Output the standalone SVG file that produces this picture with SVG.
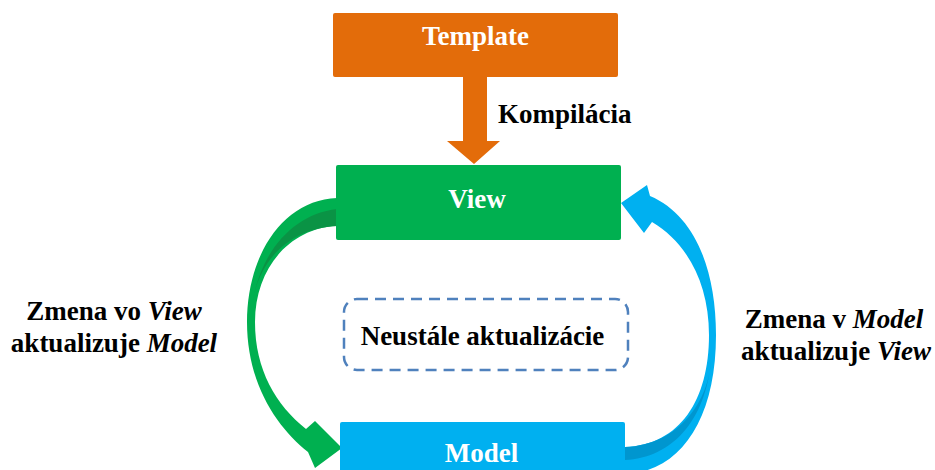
<svg xmlns="http://www.w3.org/2000/svg" width="935" height="470" viewBox="0 0 935 470">
<style>
.lbl{font-family:"Liberation Serif","Times New Roman",serif;font-weight:bold;font-size:27px}
.wt{fill:#ffffff;text-anchor:middle}
.bt{fill:#000000}
.mid{text-anchor:middle}
.it{font-style:italic}
</style>
<rect width="935" height="470" fill="#ffffff"/>
<g id="connectors">
  <g id="compile-arrow">
    <polygon points="463,76 487,76 487,141 500,141 474,164 447,141 463,141" fill="#e36c0a"/>
  </g>
  <g id="view-to-model">
    <path d="M 337,198 C 283,200 247,255 247,322 C 247,385 278,428 308,452 L 315,468 L 342,448 L 315,421 L 306,429 C 276,405 255,370 255,322 C 255,268 290,228 337,226 Z" fill="#00b050"/>
    <path d="M 337,209 C 294,214 262,250 253,300 C 260,258 292,228 337,226 Z" fill="#0a9345"/>
  </g>
  <g id="model-to-view">
    <path d="M 625,447 C 680,445 709,400 709,335 C 709,282 686,242 652,222 L 644,233 L 621,203 L 647,185 L 650,196 C 695,215 716,270 716,335 C 716,420 680,472 625,474 Z" fill="#00b0f0"/>
    <path d="M 625,447 C 680,445 709,400 711,360 C 706,420 672,458 625,460 Z" fill="#0096cf"/>
  </g>
</g>
<g id="template">
  <rect x="333" y="13" width="285" height="64" rx="2" fill="#e36c0a"/>
  <text class="lbl wt" x="475.5" y="45">Template</text>
</g>
<g id="view">
  <rect x="336" y="165" width="285" height="75" rx="2" fill="#00b050"/>
  <text class="lbl wt" x="477" y="208">View</text>
</g>
<g id="model">
  <rect x="340" y="422" width="285" height="60" rx="2" fill="#00b0f0"/>
  <text class="lbl wt" x="481.5" y="462">Model</text>
</g>
<g id="continuous">
  <rect x="344" y="299" width="284" height="71" rx="13" fill="none" stroke="#4f81bd" stroke-width="2.5" stroke-dasharray="11,7"/>
  <text class="lbl bt mid" x="482.5" y="345">Neustále aktualizácie</text>
</g>
<g id="labels">
  <text class="lbl bt" x="498" y="123">Kompilácia</text>
  <text class="lbl bt mid" x="114" y="320">Zmena vo <tspan class="it">View</tspan></text>
  <text class="lbl bt mid" x="114" y="352">aktualizuje <tspan class="it">Model</tspan></text>
  <text class="lbl bt mid" x="834" y="328">Zmena v <tspan class="it">Model</tspan></text>
  <text class="lbl bt mid" x="836" y="360">aktualizuje <tspan class="it">View</tspan></text>
</g>
</svg>
